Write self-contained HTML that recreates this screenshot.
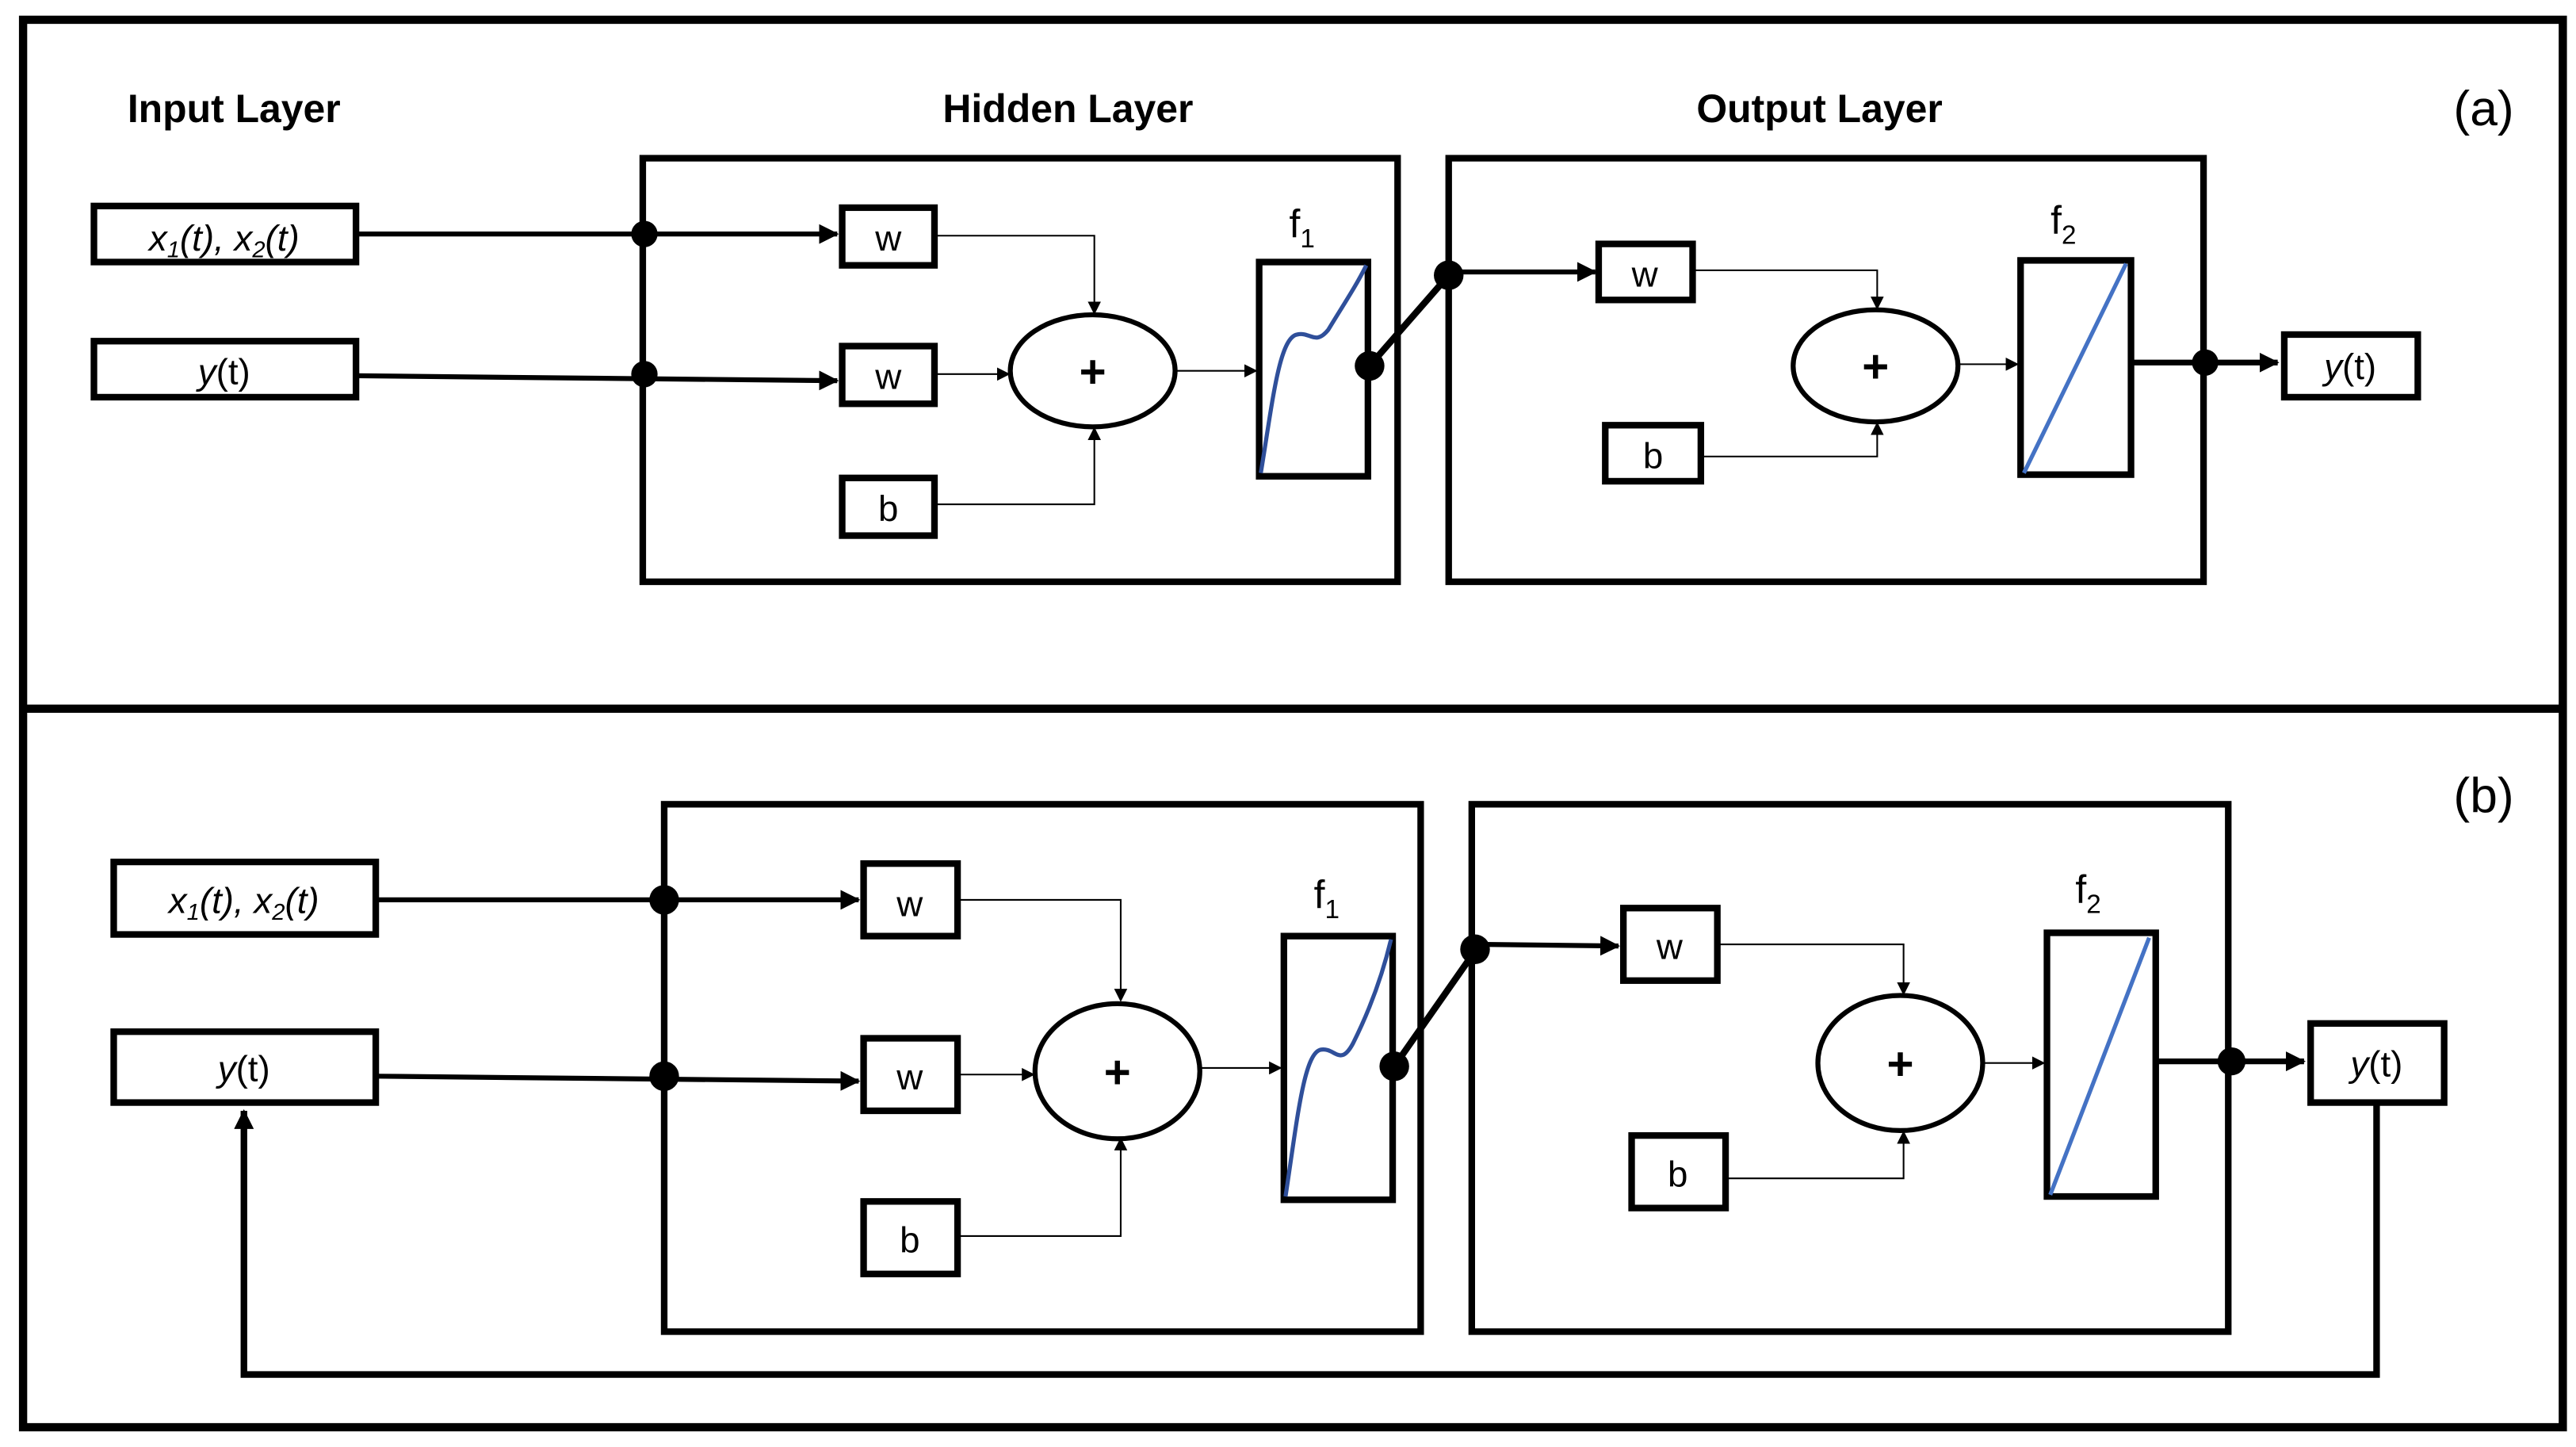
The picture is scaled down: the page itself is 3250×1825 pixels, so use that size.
<!DOCTYPE html>
<html><head><meta charset="utf-8"><style>html,body{margin:0;padding:0;background:#fff}svg{display:block}</style></head><body>
<svg width="3250" height="1825" viewBox="0 0 1563 878" preserveAspectRatio="none" xmlns="http://www.w3.org/2000/svg" font-family="'Liberation Sans', sans-serif">
<defs>
<marker id="a" markerWidth="8" markerHeight="8" refX="7" refY="4" orient="auto" markerUnits="userSpaceOnUse"><path d="M0,0 L8,4 L0,8 z" fill="#000"/></marker>
<marker id="A" markerWidth="12" markerHeight="12" refX="11" refY="6" orient="auto" markerUnits="userSpaceOnUse"><path d="M0,0 L12,6 L0,12 z" fill="#000"/></marker>
</defs>
<rect x="0" y="0" width="1563" height="878" fill="#fff"/>
<rect x="14" y="12" width="1541" height="854" fill="none" stroke="#000" stroke-width="5"/>
<line x1="14" y1="430" x2="1555" y2="430" stroke="#000" stroke-width="5"/>

<!-- (a) -->
<g font-size="24" font-weight="bold" text-anchor="middle">
<text x="142" y="74">Input Layer</text>
<text x="648" y="74">Hidden Layer</text>
<text x="1104" y="74">Output Layer</text>
</g>
<text x="1507" y="76" font-size="30" text-anchor="middle">(a)</text>
<rect x="390" y="96" width="458" height="257" fill="none" stroke="#000" stroke-width="4"/>
<rect x="879" y="96" width="458" height="257" fill="none" stroke="#000" stroke-width="4"/>
<rect x="57" y="125" width="159" height="34" fill="none" stroke="#000" stroke-width="4"/>
<text x="136" y="152" font-size="22" font-style="italic" text-anchor="middle">x<tspan font-size="14" dy="4">1</tspan><tspan dy="-4">(t), x</tspan><tspan font-size="14" dy="4">2</tspan><tspan dy="-4">(t)</tspan></text>
<rect x="57" y="207" width="159" height="34" fill="none" stroke="#000" stroke-width="4"/>
<text x="136" y="233" font-size="22" text-anchor="middle"><tspan font-style="italic">y</tspan>(t)</text>
<line x1="216" y1="142" x2="508" y2="142" stroke="#000" stroke-width="3" marker-end="url(#A)"/>
<line x1="216" y1="228" x2="508" y2="231" stroke="#000" stroke-width="3" marker-end="url(#A)"/>
<circle cx="391" cy="142" r="8"/><circle cx="391" cy="227" r="8"/>
<g fill="none" stroke="#000" stroke-width="4">
<rect x="511" y="126" width="56" height="35"/><rect x="511" y="210" width="56" height="35"/><rect x="511" y="290" width="56" height="35"/>
<ellipse cx="663" cy="225" rx="50" ry="34" stroke-width="3"/>
<rect x="764" y="159" width="66" height="130"/>
<rect x="970" y="148" width="57" height="34"/><rect x="974" y="258" width="58" height="34"/>
<ellipse cx="1138" cy="222" rx="50" ry="34" stroke-width="3"/>
<rect x="1226" y="158" width="67" height="130"/>
<rect x="1386" y="203" width="81" height="38"/>
</g>
<g font-size="22" text-anchor="middle">
<text x="539" y="152">w</text><text x="539" y="236">w</text><text x="539" y="316">b</text>
<text x="998" y="174">w</text><text x="1003" y="284">b</text>
<text x="1426" y="230"><tspan font-style="italic">y</tspan>(t)</text>
<text x="790" y="144" font-size="24">f<tspan font-size="16" dy="6">1</tspan></text>
<text x="1252" y="142" font-size="24">f<tspan font-size="16" dy="6">2</tspan></text>
</g>
<text x="663" y="235" font-size="28" font-weight="bold" text-anchor="middle">+</text>
<text x="1138" y="232" font-size="28" font-weight="bold" text-anchor="middle">+</text>
<g fill="none" stroke="#000" stroke-width="1">
<polyline points="567,143 664,143 664,190" marker-end="url(#a)"/>
<polyline points="567,306 664,306 664,260" marker-end="url(#a)"/>
<line x1="567" y1="227" x2="612" y2="227" marker-end="url(#a)"/>
<line x1="713" y1="225" x2="762" y2="225" marker-end="url(#a)"/>
<polyline points="1027,164 1139,164 1139,187" marker-end="url(#a)"/>
<polyline points="1032,277 1139,277 1139,257" marker-end="url(#a)"/>
<line x1="1188" y1="221" x2="1224" y2="221" marker-end="url(#a)"/>
</g>
<path d="M765,287 C772,245 776,205 787,203 C795,201 798,210 806,200 C815,185 822,175 829,161" fill="none" stroke="#2f4f9a" stroke-width="2.5"/>
<line x1="1228" y1="287" x2="1290" y2="160" stroke="#4472c4" stroke-width="2.5"/>
<line x1="831" y1="222" x2="879" y2="167" stroke="#000" stroke-width="4"/>
<line x1="879" y1="165" x2="968" y2="165" stroke="#000" stroke-width="3" marker-end="url(#A)"/>
<circle cx="831" cy="222" r="9"/><circle cx="879" cy="167" r="9"/>
<line x1="1293" y1="220" x2="1382" y2="220" stroke="#000" stroke-width="3.5" marker-end="url(#A)"/>
<circle cx="1338" cy="220" r="8"/>

<!-- (b) -->
<text x="1507" y="493" font-size="30" text-anchor="middle">(b)</text>
<rect x="403" y="488" width="459" height="320" fill="none" stroke="#000" stroke-width="4"/>
<rect x="893" y="488" width="459" height="320" fill="none" stroke="#000" stroke-width="4"/>
<rect x="69" y="523" width="159" height="44" fill="none" stroke="#000" stroke-width="4"/>
<text x="148" y="554" font-size="22" font-style="italic" text-anchor="middle">x<tspan font-size="14" dy="4">1</tspan><tspan dy="-4">(t), x</tspan><tspan font-size="14" dy="4">2</tspan><tspan dy="-4">(t)</tspan></text>
<rect x="69" y="626" width="159" height="43" fill="none" stroke="#000" stroke-width="4"/>
<text x="148" y="656" font-size="22" text-anchor="middle"><tspan font-style="italic">y</tspan>(t)</text>
<line x1="228" y1="546" x2="521" y2="546" stroke="#000" stroke-width="3" marker-end="url(#A)"/>
<line x1="228" y1="653" x2="521" y2="656" stroke="#000" stroke-width="3" marker-end="url(#A)"/>
<circle cx="403" cy="546" r="9"/><circle cx="403" cy="653" r="9"/>
<g fill="none" stroke="#000" stroke-width="4">
<rect x="524" y="524" width="57" height="44"/><rect x="524" y="630" width="57" height="44"/><rect x="524" y="729" width="57" height="44"/>
<ellipse cx="678" cy="650" rx="50" ry="41" stroke-width="3"/>
<rect x="779" y="568" width="66" height="160"/>
<rect x="985" y="551" width="57" height="44"/><rect x="990" y="689" width="57" height="44"/>
<ellipse cx="1153" cy="645" rx="50" ry="41" stroke-width="3"/>
<rect x="1242" y="566" width="66" height="160"/>
<rect x="1402" y="621" width="81" height="48"/>
</g>
<g font-size="22" text-anchor="middle">
<text x="552" y="556">w</text><text x="552" y="661">w</text><text x="552" y="760">b</text>
<text x="1013" y="582">w</text><text x="1018" y="720">b</text>
<text x="1442" y="653"><tspan font-style="italic">y</tspan>(t)</text>
<text x="805" y="551" font-size="24">f<tspan font-size="16" dy="6">1</tspan></text>
<text x="1267" y="548" font-size="24">f<tspan font-size="16" dy="6">2</tspan></text>
</g>
<text x="678" y="660" font-size="28" font-weight="bold" text-anchor="middle">+</text>
<text x="1153" y="655" font-size="28" font-weight="bold" text-anchor="middle">+</text>
<g fill="none" stroke="#000" stroke-width="1">
<polyline points="581,546 680,546 680,607" marker-end="url(#a)"/>
<polyline points="581,750 680,750 680,691" marker-end="url(#a)"/>
<line x1="581" y1="652" x2="627" y2="652" marker-end="url(#a)"/>
<line x1="728" y1="648" x2="777" y2="648" marker-end="url(#a)"/>
<polyline points="1042,573 1155,573 1155,603" marker-end="url(#a)"/>
<polyline points="1047,715 1155,715 1155,687" marker-end="url(#a)"/>
<line x1="1203" y1="645" x2="1240" y2="645" marker-end="url(#a)"/>
</g>
<path d="M780,726 C787,680 791,640 801,637 C810,635 813,648 821,633 C830,615 838,595 844,570" fill="none" stroke="#2f4f9a" stroke-width="2.5"/>
<line x1="1244" y1="725" x2="1304" y2="569" stroke="#4472c4" stroke-width="2.5"/>
<line x1="846" y1="647" x2="895" y2="577" stroke="#000" stroke-width="4"/>
<line x1="895" y1="573" x2="982" y2="574" stroke="#000" stroke-width="3" marker-end="url(#A)"/>
<circle cx="846" cy="647" r="9"/><circle cx="895" cy="576" r="9"/>
<line x1="1308" y1="644" x2="1398" y2="644" stroke="#000" stroke-width="3.5" marker-end="url(#A)"/>
<circle cx="1354" cy="644" r="8.5"/>
<polyline points="1442,669 1442,834 148,834 148,674" fill="none" stroke="#000" stroke-width="4" marker-end="url(#A)"/>
</svg>
</body></html>
